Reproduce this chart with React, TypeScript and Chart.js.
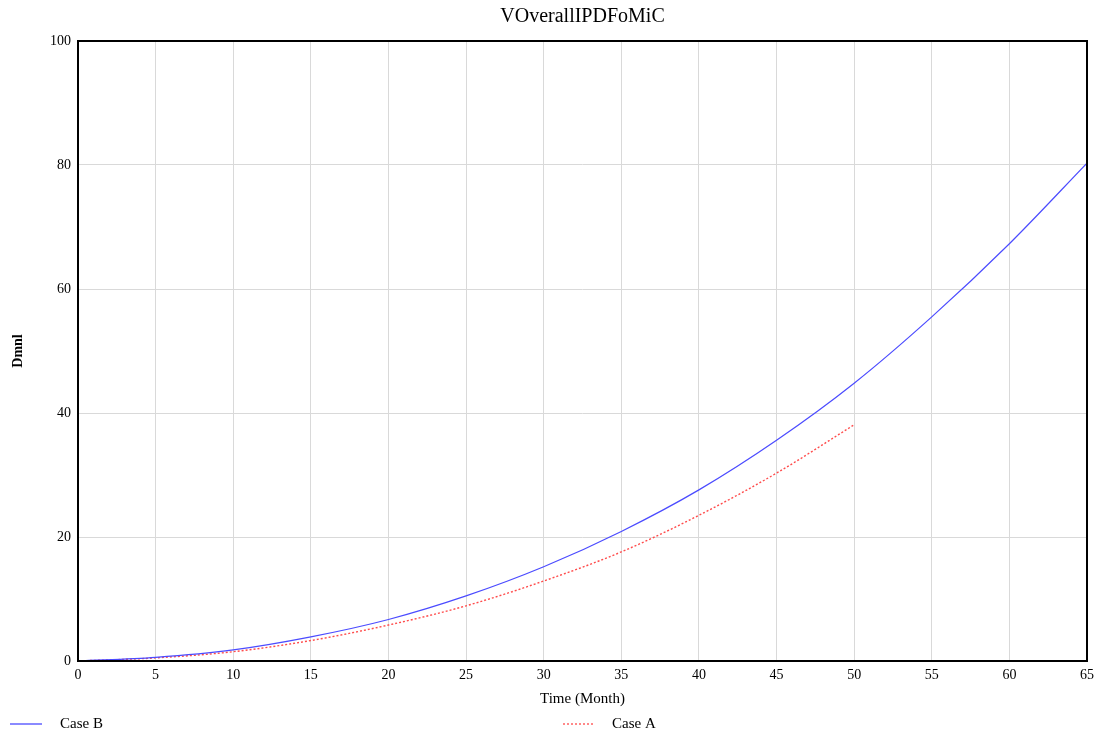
import React, { useEffect, useRef } from "react";
import { Chart, registerables } from "chart.js";

Chart.register(...registerables);

const chartTitle = "VOverallIPDFoMiC";
const xTitle = "Time (Month)";
const yTitle = "Dmnl";

const monthsB = [0, 5, 10, 15, 20, 25, 30, 35, 40, 45, 50, 55, 60, 65];
const caseB = [0, 0.6, 1.8, 3.9, 6.7, 10.5, 15.2, 20.9, 27.6, 35.6, 44.8, 55.5, 67.3, 80.3];

const monthsA = [0, 5, 10, 15, 20, 25, 30, 35, 40, 45, 50];
const caseA = [0, 0.5, 1.5, 3.3, 5.8, 8.9, 12.9, 17.6, 23.5, 30.3, 38.1];

const FONT = "'Liberation Serif', 'Times New Roman', serif";
const BLUE = "#4b4bff";
const RED = "#ff4b4b";

const overlayPlugin = {
  id: "overlay",
  afterDraw(chart: any) {
    const { ctx, chartArea } = chart;
    const { left, right, top, bottom } = chartArea;
    ctx.save();
    // frame
    ctx.strokeStyle = "#000";
    ctx.lineWidth = 2;
    ctx.strokeRect(left, top, right - left, bottom - top);
    // title
    ctx.fillStyle = "#000";
    ctx.textAlign = "center";
    ctx.textBaseline = "middle";
    ctx.font = `20px ${FONT}`;
    ctx.fillText(chartTitle, (left + right) / 2, 17);
    // x title
    ctx.font = `15px ${FONT}`;
    ctx.fillText(xTitle, (left + right) / 2, 699);
    // y title
    ctx.save();
    ctx.translate(18, (top + bottom) / 2);
    ctx.rotate(-Math.PI / 2);
    ctx.font = `bold 14px ${FONT}`;
    ctx.fillText(yTitle, 0, 0);
    ctx.restore();
    // legend
    const items = [
      { label: chart.data.datasets[0].label, color: BLUE, dash: [] as number[], x0: 10, tx: 60 },
      { label: chart.data.datasets[1].label, color: RED, dash: [2, 2], x0: 563, tx: 612 },
    ];
    const ly = 724;
    items.forEach((it) => {
      ctx.save();
      ctx.beginPath();
      ctx.setLineDash(it.dash);
      ctx.strokeStyle = it.color;
      ctx.lineWidth = 1.3;
      ctx.moveTo(it.x0, ly);
      ctx.lineTo(it.x0 + 32, ly);
      ctx.stroke();
      ctx.restore();
      ctx.fillStyle = "#000";
      ctx.textAlign = "left";
      ctx.textBaseline = "middle";
      ctx.font = `15px ${FONT}`;
      ctx.fillText(it.label, it.tx, ly);
    });
    ctx.restore();
  },
};

export default function App() {
  const ref = useRef<HTMLCanvasElement | null>(null);
  useEffect(() => {
    document.body.style.margin = "0";
    const canvas = ref.current;
    if (!canvas) return;
    const chart = new Chart(canvas, {
      type: "line",
      data: {
        datasets: [
          {
            label: "Case B",
            data: monthsB.map((m, i) => ({ x: m, y: caseB[i] })),
            borderColor: BLUE,
            borderWidth: 1.2,
            pointRadius: 0,
            cubicInterpolationMode: "monotone",
          },
          {
            label: "Case A",
            data: monthsA.map((m, i) => ({ x: m, y: caseA[i] })),
            borderColor: RED,
            borderWidth: 1.4,
            borderDash: [2, 2],
            pointRadius: 0,
            cubicInterpolationMode: "monotone",
          },
        ],
      },
      options: {
        animation: false,
        responsive: false,
        layout: { padding: { top: 41, right: 13, left: 0, bottom: 0 } },
        plugins: { legend: { display: false }, title: { display: false }, tooltip: { enabled: false } },
        scales: {
          x: {
            type: "linear",
            min: 0,
            max: 65,
            ticks: { stepSize: 5, autoSkip: false, color: "#000", padding: 6, font: { family: FONT, size: 14 } },
            grid: { color: "#d9d9d9", drawTicks: false },
            border: { display: false },
            afterFit: (s: any) => { s.height = 72; },
          },
          y: {
            min: 0,
            max: 100,
            ticks: { stepSize: 20, color: "#000", padding: 7, font: { family: FONT, size: 14 } },
            grid: { color: "#d9d9d9", drawTicks: false },
            border: { display: false },
            afterFit: (s: any) => { s.width = 78; },
          },
        },
      },
      plugins: [overlayPlugin],
    } as any);
    return () => chart.destroy();
  }, []);
  return (
    <div style={{ width: 1100, height: 733 }}>
      <canvas ref={ref} width={1100} height={733} style={{ display: "block", width: 1100, height: 733 }} />
    </div>
  );
}
